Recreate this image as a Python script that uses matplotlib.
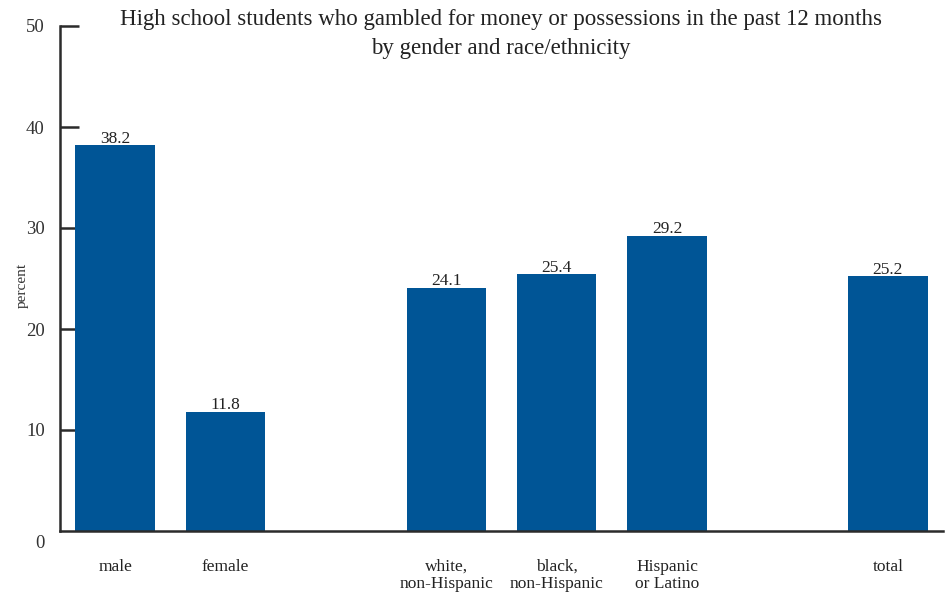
import numpy as np
import matplotlib.pyplot as plt
import matplotlib.transforms as mtransforms

# data
categories = ['male', 'female', 'white,\nnon-Hispanic', 'black,\nnon-Hispanic', 'Hispanic\nor Latino', 'total']
slots = [0, 1, 3, 4, 5, 7]
values = [38.2, 11.8, 24.1, 25.4, 29.2, 25.2]
y_ticks = [0, 10, 20, 30, 40, 50]

plt.rcParams['font.family'] = ['Liberation Serif', 'DejaVu Serif']

fig = plt.figure(figsize=(9.5, 5.98), dpi=100)
ax = fig.add_axes([60 / 950, 67 / 598, 883 / 950, 505 / 598])

bar_color = '#005596'
axis_color = '#2b2b2b'

ax.bar(slots, values, width=0.72, color=bar_color, zorder=2)

# value labels above the bars
for x, v in zip(slots, values):
    ax.annotate('{:.1f}'.format(v), (x, v), xytext=(0, -1), textcoords='offset points',
                ha='center', va='bottom', fontsize=12.5, color='#222222')

ax.set_xlim(-0.5, 7.5)
ax.set_ylim(0, 50)

ax.set_xticks(slots)
ax.set_xticklabels(categories, fontsize=12.5, color='#222222', linespacing=1.1)
ax.tick_params(axis='x', length=0, pad=20)

ax.set_yticks(y_ticks)
ax.set_yticklabels([str(t) for t in y_ticks], fontsize=13.5, color='#333333')
ax.tick_params(axis='y', direction='in', length=14, width=1.8, color=axis_color, pad=11)

# the 0 label sits a little below the baseline
lbl0 = ax.get_yticklabels()[0]
lbl0.set_transform(lbl0.get_transform() + mtransforms.ScaledTranslation(0, -10 / 100, fig.dpi_scale_trans))
ax.yaxis.get_major_ticks()[0].tick1line.set_visible(False)

for side in ['top', 'right']:
    ax.spines[side].set_visible(False)
for side in ['left', 'bottom']:
    ax.spines[side].set_color(axis_color)
    ax.spines[side].set_linewidth(1.8)

fig.text(22 / 950, 1 - 285 / 598, 'percent', rotation=90, ha='center', va='center',
         fontsize=11, color='#333333')

fig.text(501 / 950, 1 - 34 / 598, 'High school students who gambled for money or possessions in the past 12 months\nby gender and race/ethnicity',
         ha='center', va='center', fontsize=16.5, color='#222222', linespacing=1.5)

fig.savefig('out.png', dpi=100)
